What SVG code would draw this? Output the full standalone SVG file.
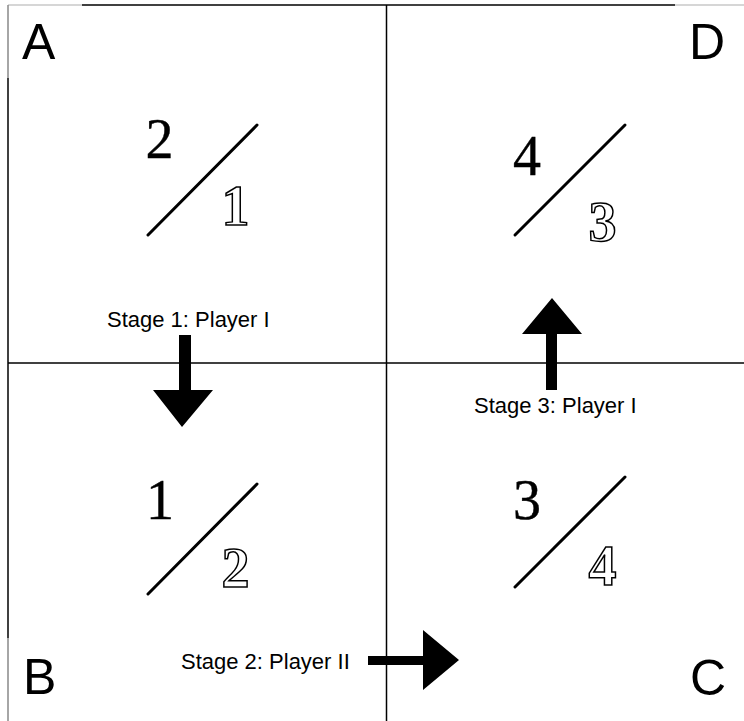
<svg xmlns="http://www.w3.org/2000/svg" width="744" height="721" viewBox="0 0 744 721">
<style>
.grid{stroke:#000;stroke-width:1.5;fill:none}
.corner{font-family:"Liberation Sans",Arial,sans-serif;font-size:50px;fill:#000}
.num{font-family:"Liberation Serif","Times New Roman",serif;font-size:56px;fill:#000;stroke:#000;stroke-width:0.4;text-anchor:middle}
.den{font-family:"Liberation Serif","Times New Roman",serif;font-size:56px;font-weight:bold;fill:#fff;stroke:#000;stroke-width:1.5;text-anchor:middle}
.slash{stroke:#000;stroke-width:3;stroke-linecap:round}
.lbl{font-family:"Liberation Sans",Arial,sans-serif;font-size:22px;fill:#000}
.arrow{fill:#000}
</style>
<rect width="744" height="721" fill="#fff"/>
<g id="grid">
<line x1="8" y1="5" x2="82" y2="5" stroke="#c8c8c8" stroke-width="1.5"/>
<line class="grid" x1="82" y1="5" x2="675" y2="5"/>
<line x1="675" y1="5" x2="744" y2="5" stroke="#c8c8c8" stroke-width="1.5"/>
<line x1="8" y1="5" x2="8" y2="78" stroke="#888" stroke-width="1.5"/>
<line class="grid" x1="8" y1="78" x2="8" y2="638"/>
<line x1="8" y1="638" x2="8" y2="721" stroke="#888" stroke-width="1.5"/>
<line class="grid" x1="8" y1="363" x2="744" y2="363"/>
<line class="grid" x1="386.5" y1="5" x2="386.5" y2="721"/>
</g>
<g id="nodeA">
<text class="corner" x="22" y="59">A</text>
<text class="num" x="159.5" y="158">2</text>
<line class="slash" x1="148" y1="235" x2="257" y2="125"/>
<text class="den" x="235.5" y="225">1</text>
</g>
<g id="nodeD">
<text class="corner" x="689" y="59">D</text>
<text class="num" x="527" y="175">4</text>
<line class="slash" x1="515" y1="235" x2="625" y2="125"/>
<text class="den" x="602.5" y="241">3</text>
</g>
<g id="nodeB">
<text class="corner" x="23" y="694">B</text>
<text class="num" x="160" y="519">1</text>
<line class="slash" x1="148" y1="594" x2="257" y2="484"/>
<text class="den" x="235.5" y="587">2</text>
</g>
<g id="nodeC">
<text class="corner" x="690" y="695">C</text>
<text class="num" x="527" y="519">3</text>
<line class="slash" x1="515" y1="587" x2="625" y2="477"/>
<text class="den" x="602.5" y="585">4</text>
</g>
<g id="connectors">
<polygon class="arrow" points="179,335 191,335 191,390 213,390 182,427 153,390 179,390"/>
<text class="lbl" x="107" y="327">Stage 1: Player I</text>
<polygon class="arrow" points="368,656 423,656 423,630 459,660 423,690 423,665 368,665"/>
<text class="lbl" x="181" y="669">Stage 2: Player II</text>
<polygon class="arrow" points="546,390 557,390 557,334 582,334 552,298 522,334 546,334"/>
<text class="lbl" x="474" y="413">Stage 3: Player I</text>
</g>
</svg>
